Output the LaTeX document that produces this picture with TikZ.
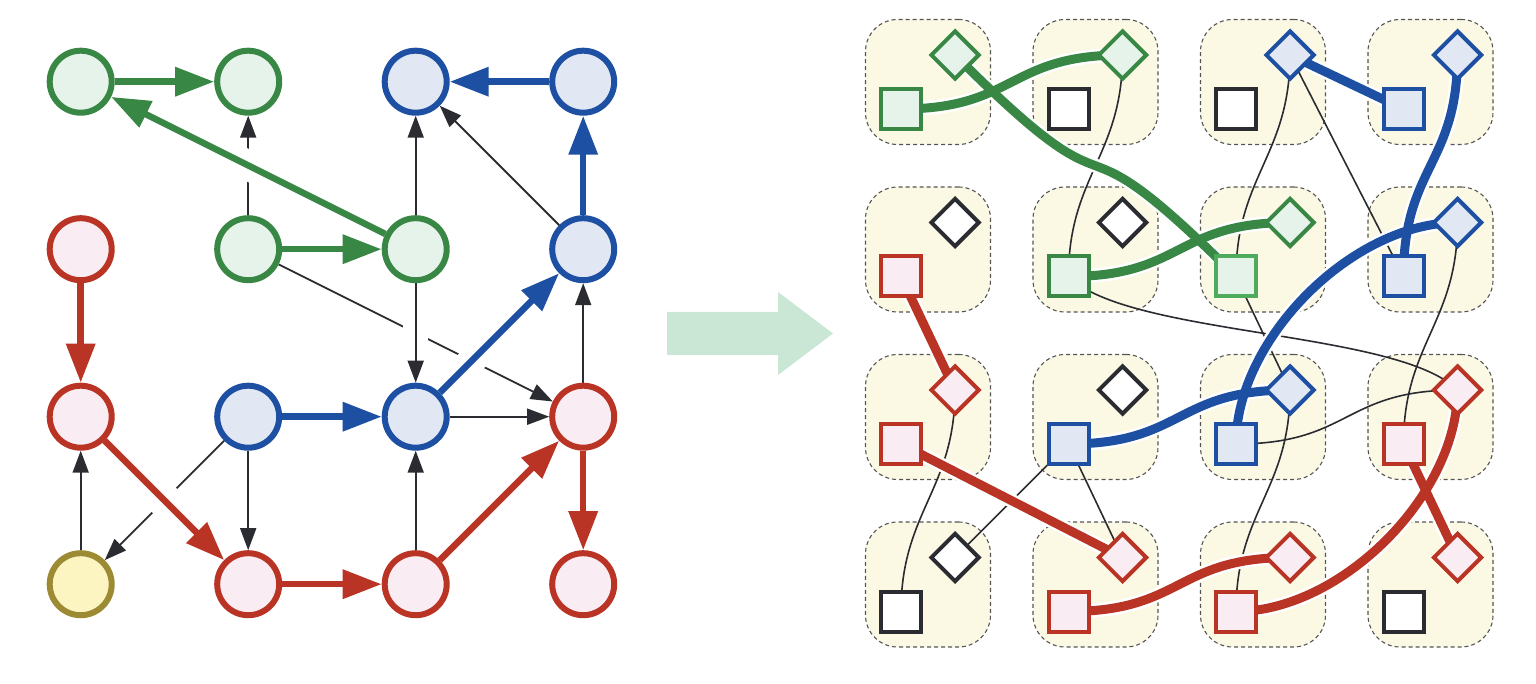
\documentclass[tikz,border=0pt]{standalone}
\usetikzlibrary{arrows.meta,shapes.geometric,calc}
\pgfdeclarelayer{bg}
\pgfdeclarelayer{edges}
\pgfsetlayers{bg,edges,main}

\definecolor{gline}{HTML}{388744}
\definecolor{gfill}{HTML}{E6F3EA}
\definecolor{glight}{HTML}{4EAB5C}
\definecolor{bline}{HTML}{1D4FA2}
\definecolor{bfill}{HTML}{E2E7F4}
\definecolor{rline}{HTML}{B93424}
\definecolor{rfill}{HTML}{F9ECF2}
\definecolor{oline}{HTML}{9C8B33}
\definecolor{ofill}{HTML}{FCF5C2}
\definecolor{ink}{HTML}{2B2C31}
\definecolor{cellfill}{HTML}{FBF9E4}
\definecolor{cellline}{HTML}{555555}
\definecolor{flow}{HTML}{C9E7D4}

\tikzset{
  vert/.style={circle, minimum size=62pt, inner sep=0pt, line width=6pt},
  cgn/.style={draw=gline, fill=gfill},
  cbl/.style={draw=bline, fill=bfill},
  crd/.style={draw=rline, fill=rfill},
  col/.style={draw=oline, fill=ofill},
  cbk/.style={draw=ink, fill=white},
  clg/.style={draw=glight, fill=gfill},
  thinarr/.style={draw=ink, line width=1.8pt, -{Triangle[length=22pt,width=16pt]}},
  thickarr/.style={draw=#1, line width=6.5pt, -{Triangle[length=39pt,width=28pt]}},
  cutgap/.style={draw=white, line width=#1},
  cellbox/.style={rectangle, rounded corners=32pt, minimum size=125pt, inner sep=0pt,
    draw=cellline, fill=cellfill, line width=1.1pt, dash pattern=on 4pt off 3pt},
  sqbox/.style={rectangle, minimum size=40pt, inner sep=0pt, line width=4pt},
  dmbox/.style={diamond, minimum width=49pt, minimum height=49pt, inner sep=0pt, line width=4pt},
  wire/.style={draw=ink, line width=1.6pt},
}

% thick coloured routes of the grid, drawn twice: white halo pass, then colour pass
\newcommand\drawroutes{%
  \draw[route=gline] (S00.center) .. controls +(115,0) and +(-115,0) .. (D10.center);
  \draw[route=gline] (D00.center) .. controls +(185,185) and +(-185,-185) .. (S21.center);
  \draw[route=gline] (S11.center) .. controls +(115,0) and +(-115,0) .. (D21.center);
  \draw[route=bline] (D20.center) -- (S30.center);
  \draw[route=bline] (D30.center) .. controls +(0,110) and +(0,-110) .. (S31.center);
  \draw[route=bline] (S22.center) .. controls +(0,-105) and +(-105,0) .. (D31.center);
  \draw[route=bline] (S12.center) .. controls +(115,0) and +(-115,0) .. (D22.center);
  \draw[route=rline] (S01.center) -- (D02.center);
  \draw[route=rline] (S02.center) -- (D13.center);
  \draw[route=rline] (S13.center) .. controls +(115,0) and +(-115,0) .. (D23.center);
  \draw[route=rline] (S23.center) .. controls +(105,0) and +(0,105) .. (D32.center);
  \draw[route=rline] (S32.center) -- (D33.center);
}

\begin{document}
\begin{tikzpicture}[x=1pt,y=-1pt]
\useasboundingbox (0,0) rectangle (1536,684);

% ---------- left: directed graph ----------
\foreach \c/\r/\k in {0/0/cgn,1/0/cgn,2/0/cbl,3/0/cbl,
                      0/1/crd,1/1/cgn,2/1/cgn,3/1/cbl,
                      0/2/crd,1/2/cbl,2/2/cbl,3/2/crd,
                      0/3/col,1/3/crd,2/3/crd,3/3/crd}
  \node[vert,\k] (n\c\r) at ({80.7+167.5*\c},{81.7+167.5*\r}) {};

\begin{pgfonlayer}{edges}
  % thin edges
  \draw[thinarr] (n11) -- (n32);
  \draw[cutgap=25pt] ($(n21)!0.42!(n22)$) -- ($(n21)!0.58!(n22)$);
  \draw[thinarr] (n21) -- (n22);
  \draw[thinarr] (n11) -- (n10);
  \draw[thinarr] (n21) -- (n20);
  \draw[thinarr] (n31) -- (n20);
  \draw[thinarr] (n22) -- (n32);
  \draw[thinarr] (n32) -- (n31);
  \draw[thinarr] (n23) -- (n22);
  \draw[thinarr] (n12) -- (n13);
  \draw[thinarr] (n12) -- (n03);
  \draw[thinarr] (n03) -- (n02);
  % gaps where thick edges pass over thin ones
  \draw[cutgap=30pt] ($(n21)!0.40!(n00)$) -- ($(n21)!0.60!(n00)$);
  \draw[cutgap=28pt] ($(n22)!0.25!(n31)$) -- ($(n22)!0.42!(n31)$);
  \draw[cutgap=34pt] ($(n02)!0.42!(n13)$) -- ($(n02)!0.58!(n13)$);
  % thick edges
  \draw[thickarr=gline] (n00) -- (n10);
  \draw[thickarr=gline] (n21) -- (n00);
  \draw[thickarr=gline] (n11) -- (n21);
  \draw[thickarr=bline] (n30) -- (n20);
  \draw[thickarr=bline] (n31) -- (n30);
  \draw[thickarr=bline] (n22) -- (n31);
  \draw[thickarr=bline] (n12) -- (n22);
  \draw[thickarr=rline] (n01) -- (n02);
  \draw[thickarr=rline] (n02) -- (n13);
  \draw[thickarr=rline] (n13) -- (n23);
  \draw[thickarr=rline] (n23) -- (n32);
  \draw[thickarr=rline] (n32) -- (n33);
\end{pgfonlayer}

% ---------- middle: transformation arrow ----------
\fill[flow] (667,312) -- (778,312) -- (778,292) -- (833,333.5) -- (778,375)
  -- (778,355) -- (667,355) -- cycle;

% ---------- right: grid of cells ----------
\begin{pgfonlayer}{bg}
  \foreach \c in {0,...,3}
    \foreach \r in {0,...,3}
      \node[cellbox] (cell\c\r) at ({928+167.5*\c},{82+167.5*\r}) {};
\end{pgfonlayer}

\foreach \c/\r/\s/\d in {0/0/cgn/cgn,1/0/cbk/cgn,2/0/cbk/cbl,3/0/cbl/cbl,
                         0/1/crd/cbk,1/1/cgn/cbk,2/1/clg/cgn,3/1/cbl/cbl,
                         0/2/crd/crd,1/2/cbl/cbk,2/2/cbl/cbl,3/2/crd/crd,
                         0/3/cbk/cbk,1/3/crd/crd,2/3/crd/crd,3/3/cbk/crd} {
  \node[sqbox,\s] (S\c\r) at ({901+167.5*\c},{109+167.5*\r}) {};
  \node[dmbox,\d] (D\c\r) at ({955+167.5*\c},{55+167.5*\r}) {};
}

\begin{pgfonlayer}{edges}
  % thin wires
  \draw[wire] (S11.center) .. controls +(0,-100) and +(0,100) .. (D10.center);
  \draw[wire] (S21.center) .. controls +(0,-100) and +(0,100) .. (D20.center);
  \draw[wire] (S31.center) -- (D20.center);
  \draw[wire] (S21.center) -- (D22.center);
  \draw[wire] (S11.center) .. controls +(60,60) and +(-60,-60) .. (D32.center);
  \draw[wire] (S22.center) .. controls +(115,0) and +(-115,0) .. (D32.center);
  \draw[wire] (S32.center) .. controls +(0,-100) and +(0,100) .. (D31.center);
  \draw[wire] (S23.center) .. controls +(0,-100) and +(0,100) .. (D22.center);
  \draw[wire] (S12.center) -- (D13.center);
  \draw[wire] (S12.center) -- (D03.center);
  \draw[wire] (S03.center) .. controls +(0,-100) and +(0,100) .. (D02.center);
  % thick routes with white halo
  \tikzset{route/.style={draw=white, line width=14pt}}
  \drawroutes
  \tikzset{route/.style={draw=#1, line width=9pt}}
  \drawroutes
\end{pgfonlayer}
\end{tikzpicture}
\end{document}
